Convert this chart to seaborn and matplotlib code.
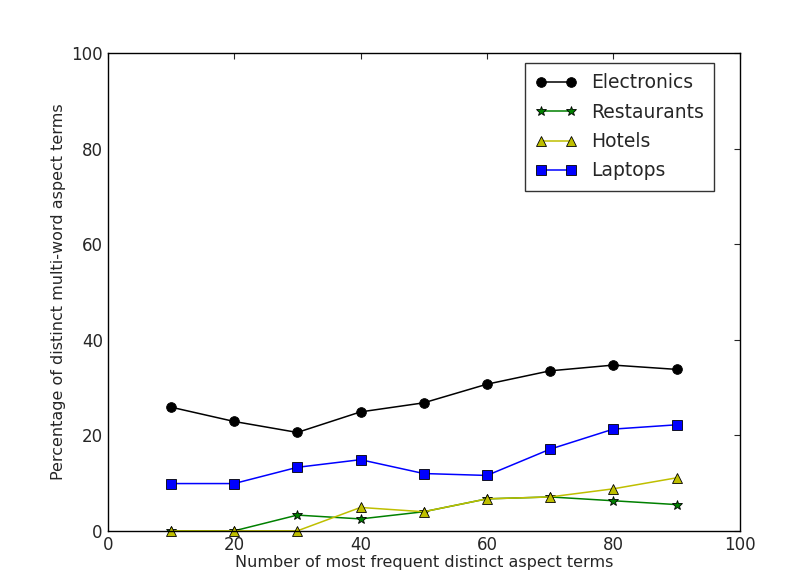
import numpy as np
import pandas as pd
import matplotlib
matplotlib.use('Agg')
import matplotlib.pyplot as plt
import seaborn as sns

# 数据
x_vals = [10, 20, 30, 40, 50, 60, 70, 80, 90]
electronics = [25.9, 22.9, 20.6, 24.9, 26.8, 30.7, 33.5, 34.7, 33.8]
restaurants = [0.0, 0.0, 3.3, 2.5, 4.0, 6.7, 7.1, 6.3, 5.5]
hotels = [0.0, 0.0, 0.0, 4.9, 4.0, 6.7, 7.1, 8.8, 11.1]
laptops = [9.9, 9.9, 13.3, 14.9, 12.0, 11.6, 17.1, 21.3, 22.2]

series = [
    ('Electronics', electronics, 'k', 'o', 7),
    ('Restaurants', restaurants, 'g', '*', 7),
    ('Hotels', hotels, 'y', '^', 7),
    ('Laptops', laptops, 'b', 's', 7),
]

sns.set_style('white')
plt.rcParams['font.family'] = ['DejaVu Sans']

fig = plt.figure(figsize=(7.92, 5.84), dpi=100)
ax = fig.add_axes([0.136, 0.091, 0.798, 0.818])

for name, vals, color, marker, ms in series:
    df = pd.DataFrame({'x': x_vals, 'y': vals})
    sns.lineplot(data=df, x='x', y='y', ax=ax, color=color, marker=marker,
                 markersize=ms, markeredgecolor='k', markeredgewidth=0.6,
                 linewidth=1.1, label=name, clip_on=False)

ax.set_xlim(0, 100)
ax.set_ylim(0, 100)
ax.set_xticks([0, 20, 40, 60, 80, 100])
ax.set_yticks([0, 20, 40, 60, 80, 100])
ax.tick_params(labelsize=12, direction='in', length=4, top=True, right=True)
ax.set_xlabel('Number of most frequent distinct aspect terms', fontsize=11.5, labelpad=1)
ax.set_ylabel('Percentage of distinct multi-word aspect terms', fontsize=11.5)
for s in ax.spines.values():
    s.set_color('k')
    s.set_linewidth(1)

leg = ax.legend(loc='upper right', bbox_to_anchor=(0.960, 0.979), borderaxespad=0,
                fontsize=13.5, numpoints=2, frameon=True, fancybox=False,
                handlelength=2.2, borderpad=0.55, labelspacing=0.55)
leg.get_frame().set_edgecolor('k')
leg.get_frame().set_linewidth(1)

plt.savefig('out.png', dpi=100)
